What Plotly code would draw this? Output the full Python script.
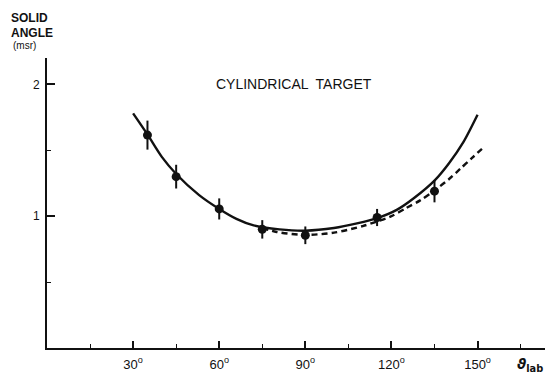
import plotly.graph_objects as go

# Measured data points (theta_lab in degrees, solid angle in msr)
theta_pts = [35, 45, 60, 75, 90, 115, 135]
omega_pts = [1.615, 1.30, 1.055, 0.90, 0.855, 0.99, 1.19]
omega_err = [0.11, 0.09, 0.08, 0.07, 0.067, 0.065, 0.085]

# Solid curve (calculation)
theta_solid = [30, 35, 40, 45, 53, 60, 66, 72, 81, 90, 100, 108, 115, 122, 128, 135, 140, 145, 150]
omega_solid = [1.78, 1.62, 1.45, 1.32, 1.16, 1.055, 0.98, 0.93, 0.90, 0.89, 0.91, 0.945, 0.985, 1.05, 1.14, 1.27, 1.40, 1.56, 1.77]

# Dashed curve (calculation)
theta_dash = [75, 80, 90, 100, 110, 115, 120, 125, 130, 135, 140, 144, 148, 152]
omega_dash = [0.91, 0.88, 0.858, 0.875, 0.925, 0.96, 1.0, 1.06, 1.12, 1.195, 1.28, 1.36, 1.44, 1.52]

x_tickvals = [30, 60, 90, 120, 150]
x_ticktext = ["30<sup>o</sup>", "60<sup>o</sup>", "90<sup>o</sup>", "120<sup>o</sup>", "150<sup>o</sup>"]
y_tickvals = [1, 2]
y_ticktext = ["1", "2"]

INK = "#111111"
FONT = "Liberation Sans, Arial, sans-serif"

fig = go.Figure()
fig.add_trace(go.Scatter(x=theta_solid, y=omega_solid, mode="lines",
                         line=dict(color=INK, width=2.4, shape="spline", smoothing=0.8),
                         showlegend=False, hoverinfo="skip"))
fig.add_trace(go.Scatter(x=theta_dash, y=omega_dash, mode="lines",
                         line=dict(color=INK, width=2.4, dash="6px,4px", shape="spline", smoothing=0.8),
                         showlegend=False, hoverinfo="skip"))
fig.add_trace(go.Scatter(x=theta_pts, y=omega_pts, mode="markers",
                         marker=dict(color=INK, size=9),
                         error_y=dict(type="data", array=omega_err, visible=True,
                                      color=INK, thickness=2, width=0),
                         showlegend=False))

fig.update_layout(
    width=546, height=373,
    margin=dict(l=47, r=1, t=58, b=20),
    paper_bgcolor="white", plot_bgcolor="white",
    font=dict(family=FONT, color=INK, size=12),
    xaxis=dict(range=[0, 173.5], showgrid=False, zeroline=False,
               showline=True, linecolor=INK, linewidth=2,
               ticks="inside", ticklen=7, tickwidth=1.5, tickcolor=INK,
               tickvals=x_tickvals, ticktext=x_ticktext,
               tickfont=dict(size=13, family=FONT, color=INK),
               ticklabelstandoff=3,
               minor=dict(ticks="inside", ticklen=4, tickwidth=1.2, tickcolor=INK,
                          tick0=15, dtick=30, showgrid=False)),
    yaxis=dict(range=[0, 2.2], showgrid=False, zeroline=False,
               showline=True, linecolor=INK, linewidth=2,
               ticks="inside", ticklen=8, tickwidth=1.5, tickcolor=INK,
               tickvals=y_tickvals, ticktext=y_ticktext,
               tickfont=dict(size=12, family=FONT, color=INK),
               ticklabelstandoff=3,
               minor=dict(ticks="inside", ticklen=4, tickwidth=1.2, tickcolor=INK,
                          tick0=0.5, dtick=1, showgrid=False)),
    annotations=[
        dict(text="CYLINDRICAL  TARGET", x=86, y=2.0, xref="x", yref="y",
             showarrow=False, font=dict(size=14, family=FONT, color=INK)),
        dict(text="SOLID", x=-0.076, y=1.139, xref="paper", yref="paper",
             xanchor="left", yanchor="middle", showarrow=False,
             font=dict(size=12, family=FONT, color=INK, weight="bold")),
        dict(text="ANGLE", x=-0.076, y=1.087, xref="paper", yref="paper",
             xanchor="left", yanchor="middle", showarrow=False,
             font=dict(size=12, family=FONT, color=INK, weight="bold")),
        dict(text="(msr)", x=-0.072, y=1.043, xref="paper", yref="paper",
             xanchor="left", yanchor="middle", showarrow=False,
             font=dict(size=10, family=FONT, color=INK)),
        dict(text="<b><i>ϑ</i></b><sub><b>lab</b></sub>", x=163, y=-0.02, xref="x", yref="paper",
             xanchor="left", yanchor="top", showarrow=False,
             font=dict(size=14, family="DejaVu Sans, sans-serif", color=INK)),
    ],
)

fig.write_html("out.html")
